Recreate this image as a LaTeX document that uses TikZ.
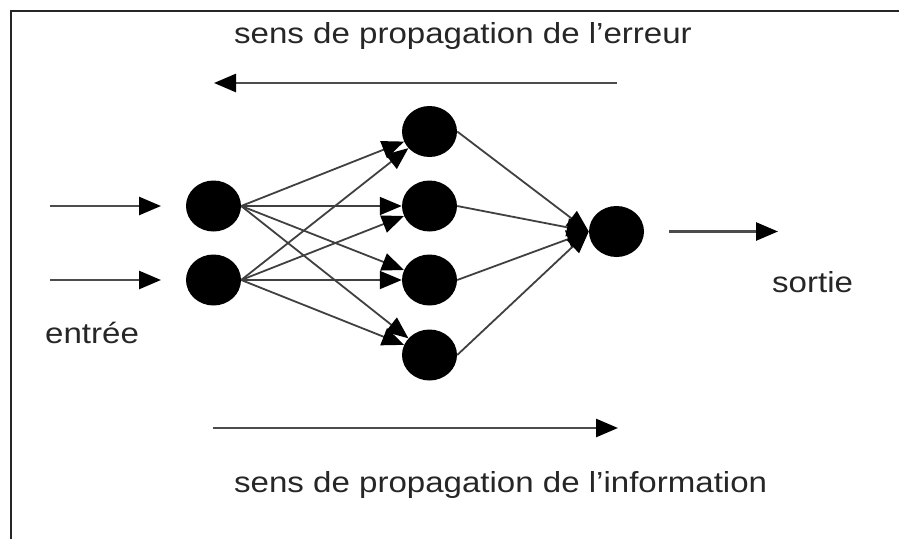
\documentclass[tikz,border=0pt]{standalone}
\usepackage{fontspec}
\setmainfont{Liberation Sans}[FakeStretch=1.14]
\usetikzlibrary{arrows.meta,shapes.geometric}

\tikzset{
  neuron/.style={ellipse, fill=black, minimum width=55pt, minimum height=51pt, inner sep=0pt},
  link/.style={draw=black!75, line width=1.8pt, -{Triangle[length=22pt,width=18pt,color=black]}},
  flow/.style={draw=black!70, line width=2.6pt, -{Triangle[length=22pt,width=18pt,color=black]}},
  label/.style={anchor=base west, inner sep=0pt, text=black!85, font=\fontsize{29}{34}\selectfont}
}

\begin{document}
\begin{tikzpicture}[x=1pt, y=-1pt]
\useasboundingbox (0,0) rectangle (899,539);

% frame
\draw[line width=2.4pt, black!85] (11,539) -- (11,11) -- (899,11);

% layers
\node[neuron] (i1) at (213.5,206) {};
\node[neuron] (i2) at (213.5,280) {};
\node[neuron] (h1) at (429.5,131.5) {};
\node[neuron] (h2) at (429.5,206) {};
\node[neuron] (h3) at (429.5,280) {};
\node[neuron] (h4) at (429.5,355) {};
\node[neuron] (o)  at (616.5,231.5) {};

% input -> hidden
\foreach \i in {i1,i2}
  \foreach \h in {h1,h2,h3,h4}
    \draw[link] (\i.east) -- (\h);

% hidden -> output
\foreach \h in {h1,h2,h3,h4}
  \draw[link] (\h.east) -- (o.west);

% inputs and output
\coordinate (in1) at (50,206);
\coordinate (in2) at (50,280);
\coordinate (in1t) at (161,206);
\coordinate (in2t) at (161,280);
\coordinate (outs) at (669,231.5);
\coordinate (oute) at (778,231.5);
\draw[flow] (in1) -- (in1t);
\draw[flow] (in2) -- (in2t);
\draw[flow] (outs) -- (oute);

% propagation directions
\coordinate (errA) at (617,83);
\coordinate (errB) at (214,83);
\coordinate (infA) at (213,428);
\coordinate (infB) at (618,428);
\draw[flow] (errA) -- (errB);
\draw[flow] (infA) -- (infB);

% texts
\node[label] (terr) at (234,43) {sens de propagation de l’erreur};
\node[label] (tinf) at (234,492) {sens de propagation de l’information};
\node[label] (tin)  at (45,343) {entrée};
\node[label] (tout) at (772,292) {sortie};
\end{tikzpicture}
\end{document}
